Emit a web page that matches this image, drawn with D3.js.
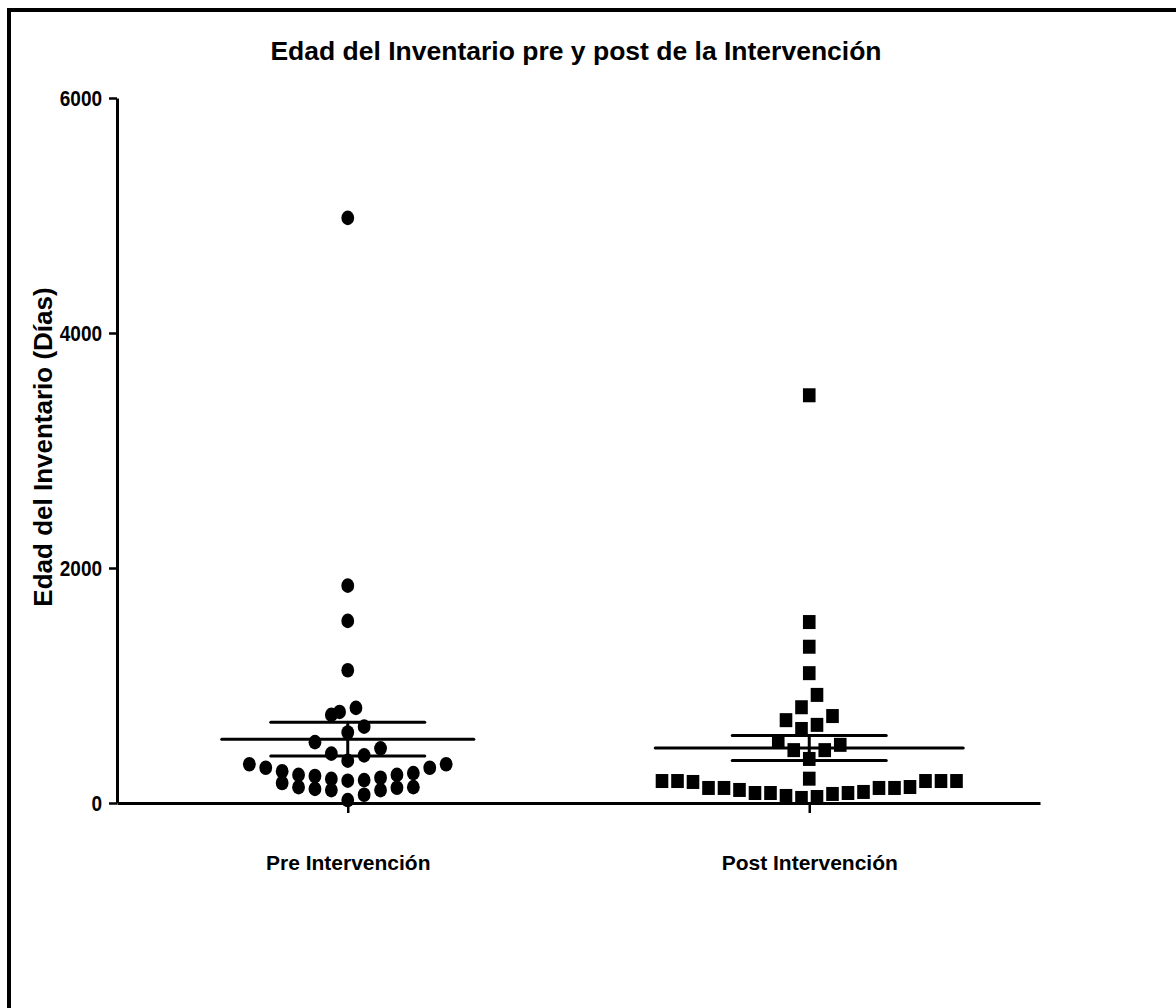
<!DOCTYPE html>
<html>
<head>
<meta charset="utf-8">
<script src="https://cdn.jsdelivr.net/npm/d3@7"></script>
<style>
	body { margin: 0; background: #fff; }
	text { font-family: "Liberation Sans", Arial, sans-serif; fill: #000; }
</style>
</head>
<body>
<svg id="chart"></svg>
<script>
// values (days)
const groups = ['Pre Intervención', 'Post Intervención'];
const pre_values = [4980, 1850, 1550, 1130, 810, 775, 750, 650, 600, 518, 465, 420, 405, 360,
	330, 300, 300, 330, 255, 135, 240, 120, 215, 110, 205, 110, 190, 25, 195, 70, 230, 130, 240, 135, 270, 170];
const post_values = [3470, 1540, 1330, 1105, 920, 815, 705, 740, 665, 630, 520, 495, 450, 450, 375, 207,
	187, 187, 187, 128, 128, 128, 85, 85, 60, 43, 51, 77, 85, 94, 111, 128, 136, 179, 187, 187];
const y_ticks = [0, 2000, 4000, 6000];
const chart_title = 'Edad del Inventario pre y post de la Intervención';
const y_title = 'Edad del Inventario (Días)';

const SVG_WIDTH = 1176;
const SVG_HEIGHT = 1008;

const svg = d3.select('#chart')
	.attr('width', SVG_WIDTH)
	.attr('height', SVG_HEIGHT);

// frame runs off the right and bottom edge like in the source image
svg.append('rect')
	.attr('x', 9).attr('y', 10)
	.attr('width', 1300).attr('height', 1200)
	.attr('fill', 'none')
	.attr('stroke', '#000')
	.attr('stroke-width', 4);

const x = d3.scalePoint()
	.domain(groups)
	.range([117, 1040])
	.padding(0.5);

const y = d3.scaleLinear()
	.domain([0, 6000])
	.range([803, 98]);

// prism-like column scatter: points closer than rowGap px share a row,
// rows are spread out from the centre, smallest value in the middle
const layout = (values, rowGap) => {
	const sorted = values.map((v, i) => i).sort((a, b) => values[a] - values[b]);
	const slots = new Array(values.length);
	let i = 0;
	while (i < sorted.length) {
		const start = y(values[sorted[i]]);
		let j = i;
		while (j < sorted.length && start - y(values[sorted[j]]) < rowGap) j++;
		const n = j - i;
		for (let k = 0; k < n; k++) {
			let s;
			if (n % 2) s = k === 0 ? 0 : (k % 2 ? (k + 1) / 2 : -k / 2);
			else s = (k % 2 ? 1 : -1) * (Math.floor(k / 2) + 0.5);
			slots[sorted[i + k]] = s;
		}
		i = j;
	}
	return slots;
};

const series = [
	{name: groups[0], values: pre_values, step: 16.4, meanHalf: 126, shape: 'circle'},
	{name: groups[1], values: post_values, step: 15.5, meanHalf: 154, shape: 'square'}
];

series.forEach(s => {
	const slots = layout(s.values, 18.8);
	s.points = s.values.map((v, i) => ({v, px: x(s.name) + slots[i] * s.step, py: y(v)}));
	s.mean = d3.mean(s.values);
	s.sem = d3.deviation(s.values) / Math.sqrt(s.values.length);
});

// axes
const yAxis = svg.append('g')
	.attr('transform', 'translate(117,0)')
	.call(d3.axisLeft(y).tickValues(y_ticks).tickFormat(d3.format('d'))
		.tickSize(8).tickSizeOuter(0).tickPadding(7));

const xAxis = svg.append('g')
	.attr('transform', 'translate(0,803)')
	.call(d3.axisBottom(x).tickSize(10).tickSizeOuter(0));

[yAxis, xAxis].forEach(g => {
	g.select('.domain').attr('stroke', '#000').attr('stroke-width', 3);
	g.selectAll('.tick line').attr('stroke', '#000').attr('stroke-width', 2.5);
});

yAxis.selectAll('.tick text')
	.attr('font-weight', 'bold')
	.attr('font-size', 19)
	.attr('fill', '#000')
	.attr('transform', 'scale(1,1.2)');

xAxis.selectAll('.tick text')
	.attr('font-weight', 'bold')
	.attr('font-size', 21)
	.attr('fill', '#000')
	.attr('dy', null)
	.attr('y', 67);

// points
const marks = svg.append('g');
series.forEach(s => {
	if (s.shape === 'circle') {
		marks.selectAll(null)
			.data(s.points)
			.enter().append('ellipse')
			.attr('cx', d => d.px)
			.attr('cy', d => d.py)
			.attr('rx', 6.4)
			.attr('ry', 7.3)
			.attr('fill', '#000');
	} else {
		marks.selectAll(null)
			.data(s.points)
			.enter().append('rect')
			.attr('x', d => d.px - 6.3)
			.attr('y', d => d.py - 7)
			.attr('width', 12.6)
			.attr('height', 14)
			.attr('fill', '#000');
	}
});

// mean and SEM
const stats = svg.append('g')
	.attr('stroke', '#000')
	.attr('stroke-width', 3)
	.attr('stroke-linecap', 'round');

series.forEach(s => {
	const cx = x(s.name);
	stats.append('line')
		.attr('x1', cx - s.meanHalf).attr('x2', cx + s.meanHalf)
		.attr('y1', y(s.mean)).attr('y2', y(s.mean));
	[s.mean - s.sem, s.mean + s.sem].forEach(v => {
		stats.append('line')
			.attr('x1', cx - 77).attr('x2', cx + 77)
			.attr('y1', y(v)).attr('y2', y(v));
	});
	stats.append('line')
		.attr('x1', cx).attr('x2', cx)
		.attr('y1', y(s.mean - s.sem)).attr('y2', y(s.mean + s.sem));
});

// titles
svg.append('text')
	.attr('x', 576)
	.attr('y', 60)
	.attr('text-anchor', 'middle')
	.attr('font-weight', 'bold')
	.attr('font-size', 26.5)
	.text(chart_title);

svg.append('text')
	.attr('transform', 'translate(52,447) rotate(-90)')
	.attr('text-anchor', 'middle')
	.attr('font-weight', 'bold')
	.attr('font-size', 26)
	.text(y_title);
</script>
</body>
</html>
